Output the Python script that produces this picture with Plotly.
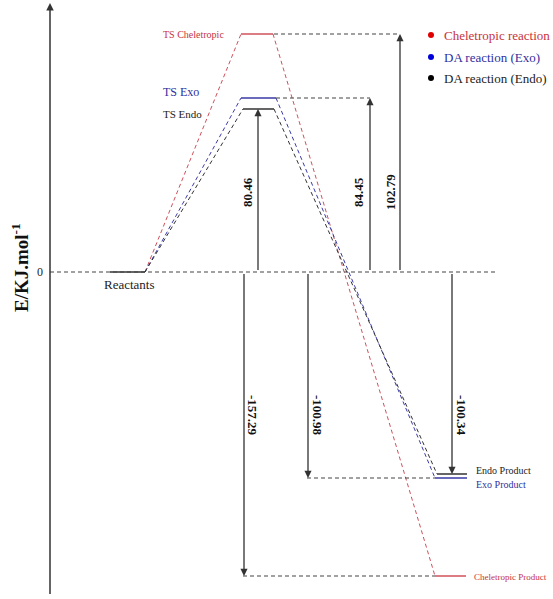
import plotly.graph_objects as go

# ---- data ----
reactions = ["Cheletropic reaction", "DA reaction (Exo)", "DA reaction (Endo)"]
ts_labels = ["TS Cheletropic", "TS Exo", "TS Endo"]
product_labels = ["Cheletropic Product", "Exo Product", "Endo Product"]
barrier_energies = ["102.79", "84.45", "80.46"]
reaction_energies = ["-157.29", "-100.98", "-100.34"]
# level heights as drawn in the diagram (diagram units, reactants = 0)
ts_levels = [238, 174, 163]
product_levels = [-304, -206, -202]
reactant_level = 0

# ---- style / layout constants ----
W, H = 553, 599
colors_line = ["#d0505a", "#3a3aa8", "#333333"]
colors_text = ["#c8323c", "#3030a0", "#222222"]
colors_dot = ["#e00000", "#0000d8", "#000000"]
FONT = "Liberation Serif"
axis_x = 50
reac_x = (110, 145)
ts_x = [(241, 273), (241, 276), (243, 274)]
prod_x = [(435, 466), (435, 467), (437, 467)]
up_arrow_x = [400, 370, 258]
down_arrow_x = [244, 308, 452]
up_label_x = [390, 358, 247]
down_label_x = [253, 318, 462]
ref_start_x = [274, 276, None]
ref_prod_start_x = [243, 307, None]

def py(p):
    return 272 - p

fig = go.Figure()

# reaction paths
for i in range(3):
    c = colors_line[i]
    fig.add_trace(go.Scatter(x=[reac_x[1], ts_x[i][0]], y=[reactant_level, ts_levels[i]],
                             mode="lines", line=dict(color=c, width=1, dash="4px,3px"),
                             showlegend=False, hoverinfo="skip"))
    fig.add_trace(go.Scatter(x=[ts_x[i][1], prod_x[i][0]], y=[ts_levels[i], product_levels[i]],
                             mode="lines", line=dict(color=c, width=1, dash="4px,3px"),
                             showlegend=False, hoverinfo="skip"))
    fig.add_trace(go.Scatter(x=list(ts_x[i]), y=[ts_levels[i]] * 2, mode="lines",
                             line=dict(color=c, width=1.5), showlegend=False, hoverinfo="skip"))
    fig.add_trace(go.Scatter(x=list(prod_x[i]), y=[product_levels[i]] * 2, mode="lines",
                             line=dict(color=c, width=1.5), showlegend=False, hoverinfo="skip"))

# reactants level
fig.add_trace(go.Scatter(x=list(reac_x), y=[reactant_level] * 2, mode="lines",
                         line=dict(color="#333", width=1.5), showlegend=False, hoverinfo="skip"))

# reference dashed lines
dash_kw = dict(color="#444", width=1.2, dash="4px,3px")
fig.add_trace(go.Scatter(x=[axis_x, 497], y=[reactant_level] * 2, mode="lines", line=dash_kw,
                         showlegend=False, hoverinfo="skip"))
for i in range(2):
    fig.add_trace(go.Scatter(x=[ref_start_x[i], up_arrow_x[i]], y=[ts_levels[i]] * 2, mode="lines",
                             line=dash_kw, showlegend=False, hoverinfo="skip"))
    fig.add_trace(go.Scatter(x=[ref_prod_start_x[i], prod_x[i][0]], y=[product_levels[i]] * 2,
                             mode="lines", line=dash_kw, showlegend=False, hoverinfo="skip"))

annotations = []

def arrow(x, y0, y1, width=1.3, size=1.1):
    annotations.append(dict(x=x, y=y1, ax=x, ay=y0, xref="x", yref="y", axref="x", ayref="y",
                            text=" ", showarrow=True, arrowhead=2, arrowsize=size,
                            arrowwidth=width, arrowcolor="#333", standoff=0, startstandoff=0,
                            font=dict(size=1)))

# y axis
arrow(axis_x, py(596), py(3), width=1.5, size=1.0)

# energy arrows
for i in range(3):
    arrow(up_arrow_x[i], reactant_level, ts_levels[i])
    annotations.append(dict(x=up_label_x[i], y=py(192), text="<b>%s</b>" % barrier_energies[i],
                            textangle=-90, showarrow=False, xref="x", yref="y",
                            font=dict(family=FONT, size=13, color="#111")))
    arrow(down_arrow_x[i], reactant_level, product_levels[i])
    annotations.append(dict(x=down_label_x[i], y=py(415), text="<b>%s</b>" % reaction_energies[i],
                            textangle=90, showarrow=False, xref="x", yref="y",
                            font=dict(family=FONT, size=13, color="#111")))

# level labels
ts_label_pos = [(161, 34, 10), (161, 92, 12), (161, 114, 11)]
for i in range(3):
    x, p, s = ts_label_pos[i]
    annotations.append(dict(x=x, y=py(p), text=ts_labels[i], xanchor="left", showarrow=False,
                            xref="x", yref="y", font=dict(family=FONT, size=s, color=colors_text[i])))
prod_label_pos = [(472, 577, 9), (474, 484, 10), (474, 470, 10)]
for i in range(3):
    x, p, s = prod_label_pos[i]
    annotations.append(dict(x=x, y=py(p), text=product_labels[i], xanchor="left", showarrow=False,
                            xref="x", yref="y", font=dict(family=FONT, size=s, color=colors_text[i])))
annotations.append(dict(x=129, y=py(284), text="Reactants", showarrow=False, xref="x", yref="y",
                        font=dict(family=FONT, size=13, color="#222")))
annotations.append(dict(x=40, y=py(272), text="0", showarrow=False, xref="x", yref="y",
                        font=dict(family=FONT, size=12, color="#222")))
annotations.append(dict(x=20, y=py(268), text="<b>E/KJ.mol<sup>-1</sup></b>", textangle=-90,
                        showarrow=False, xref="x", yref="y",
                        font=dict(family=FONT, size=19, color="#111")))

# legend
legend_y = [35, 57, 78]
fig.add_trace(go.Scatter(x=[431] * 3, y=[py(p) for p in legend_y], mode="markers",
                         marker=dict(color=colors_dot, size=6), showlegend=False, hoverinfo="skip"))
for i in range(3):
    annotations.append(dict(x=442, y=py(legend_y[i]), text=reactions[i], xanchor="left",
                            showarrow=False, xref="x", yref="y",
                            font=dict(family=FONT, size=13, color=colors_text[i])))

fig.update_layout(
    width=W, height=H, margin=dict(l=0, r=0, t=0, b=0),
    paper_bgcolor="white", plot_bgcolor="white",
    xaxis=dict(range=[0, W], visible=False, fixedrange=True),
    yaxis=dict(range=[py(H), py(0)], visible=False, fixedrange=True),
    annotations=annotations, showlegend=False,
)

fig.write_html("out.html")
